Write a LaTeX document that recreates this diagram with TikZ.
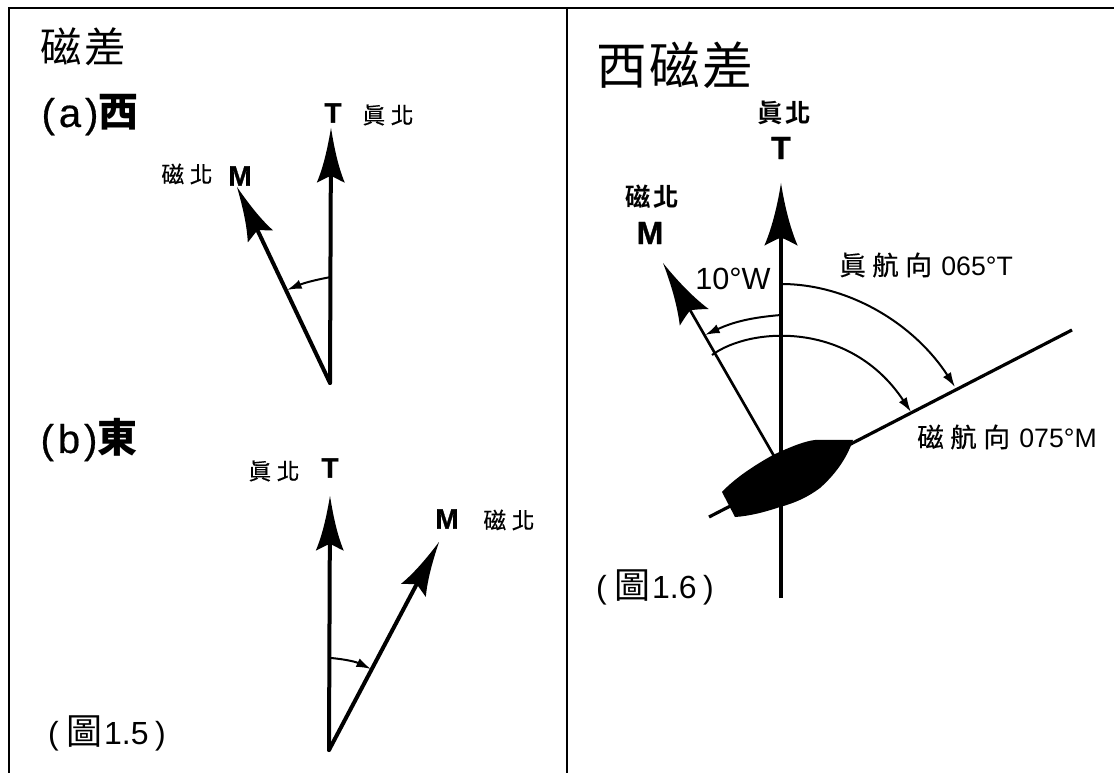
\documentclass[tikz,border=0pt]{standalone}
\usepackage{fontspec}
\setmainfont{Liberation Sans}
\newfontfamily\cjk{Noto Sans CJK TC}
\newfontfamily\cjksp[LetterSpace=25,FakeBold=0.6]{Noto Sans CJK TC}
\newfontfamily\cjkspb[LetterSpace=12]{Noto Sans CJK TC Bold}
\newfontfamily\cjkmid[LetterSpace=24,FakeBold=0.3]{Noto Sans CJK TC}
\newfontfamily\latb[LetterSpace=10,FakeBold=0.5]{Liberation Sans}
\newfontfamily\heavy[FakeBold=1.0]{Liberation Sans Bold}
\newfontfamily\cjkttl[LetterSpace=6]{Noto Sans CJK TC}
\newfontfamily\cjkttlb[LetterSpace=4]{Noto Sans CJK TC}
\usetikzlibrary{arrows.meta,calc}
\pgfarrowsdeclare{navA}{navA}{\pgfarrowsleftextend{-8pt}\pgfarrowsrightextend{36pt}}{%
  \pgfpathmoveto{\pgfpoint{36pt}{0pt}}%
  \pgfpathcurveto{\pgfpoint{24pt}{2pt}}{\pgfpoint{8pt}{5pt}}{\pgfpoint{-5pt}{10.5pt}}%
  \pgfpathcurveto{\pgfpoint{-3pt}{6pt}}{\pgfpoint{-1pt}{3pt}}{\pgfpoint{0pt}{0pt}}%
  \pgfpathcurveto{\pgfpoint{-1pt}{-3pt}}{\pgfpoint{-3pt}{-6pt}}{\pgfpoint{-5pt}{-10.5pt}}%
  \pgfpathcurveto{\pgfpoint{8pt}{-5pt}}{\pgfpoint{24pt}{-2pt}}{\pgfpoint{36pt}{0pt}}%
  \pgfusepathqfill}
\pgfarrowsdeclare{navB}{navB}{\pgfarrowsleftextend{-8pt}\pgfarrowsrightextend{41pt}}{%
  \pgfpathmoveto{\pgfpoint{41pt}{0pt}}%
  \pgfpathcurveto{\pgfpoint{28pt}{2pt}}{\pgfpoint{9pt}{6pt}}{\pgfpoint{-6pt}{12.5pt}}%
  \pgfpathcurveto{\pgfpoint{-3pt}{7pt}}{\pgfpoint{-1pt}{3pt}}{\pgfpoint{0pt}{0pt}}%
  \pgfpathcurveto{\pgfpoint{-1pt}{-3pt}}{\pgfpoint{-3pt}{-7pt}}{\pgfpoint{-6pt}{-12.5pt}}%
  \pgfpathcurveto{\pgfpoint{9pt}{-6pt}}{\pgfpoint{28pt}{-2pt}}{\pgfpoint{41pt}{0pt}}%
  \pgfusepathqfill}
\newcommand{\figcap}[1]{({\hspace{6pt}\cjk\fontsize{27}{27}\selectfont 圖}\hspace{1pt}#1\hspace{5pt})}
\tikzset{
  txt/.style={inner sep=0pt,outer sep=0pt,anchor=center,text=black},
  cjksmall/.style={txt,font=\cjksp\fontsize{17}{17}\selectfont},
  cjkstrong/.style={txt,font=\cjkspb\fontsize{19}{19}\selectfont},
  letterb/.style={txt,font=\heavy\fontsize{21}{21}\selectfont},
  letterc/.style={txt,font=\heavy\fontsize{24}{24}\selectfont},
  heading/.style={txt,font=\latb\fontsize{30}{30}\selectfont},
  lab/.style={txt,font=\fontsize{24}{24}\selectfont},
  courselab/.style={txt,font=\fontsize{20}{20}\selectfont},
  framel/.style={line width=1.8pt,line cap=butt},
  thick1/.style={line width=3pt,line cap=round},
  thin1/.style={line width=2.3pt},
  arcl/.style={line width=1.5pt,-{Latex[length=11pt,width=7pt]}},
}
\begin{document}
\begin{tikzpicture}[x=0.75pt,y=-0.75pt]
\useasboundingbox (0,0) rectangle (1114,773);
% frame
\coordinate (f1) at (9,773); \coordinate (f2) at (9,8); \coordinate (f3) at (1114,8);
\coordinate (f4) at (567,8); \coordinate (f5) at (567,773);
\draw[framel] (f1) -- (f2) -- (f3);
\draw[line width=1.5pt] (f4) -- (f5);
% titles
\node[txt,font=\cjkttl\fontsize{31}{31}\selectfont] (t1) at (83,47) {磁差};
\node[heading] (ha) at (90,115) {(a){\cjk\bfseries\fontsize{30}{30}\selectfont 西}};
\node[heading] (hb) at (89,440) {(b){\cjk\bfseries\fontsize{30}{30}\selectfont 東}};
\node[lab] (cap5) at (107,733) {\figcap{1.5}};
\node[txt,font=\cjkttlb\fontsize{38}{38}\selectfont] (t2) at (675,65) {西磁差};
\node[lab] (cap6) at (655,587) {\figcap{1.6}};
% panel a
\coordinate (aO) at (330,383);
\coordinate (aT) at (331,128);
\coordinate (aM) at (237,187);
\draw[thick1,-navA] (aO) -- (aT);
\draw[thick1,-navA] (aO) -- (aM);
\coordinate (aA1) at (331,277); \coordinate (aA2) at (287,290);
\draw[arcl] (aA1) to[bend right=6] (aA2);
\node[letterb] (aTl) at (333,113) {T};
\node[cjksmall] (aTc) at (388,115) {眞北};
\node[letterb] (aMl) at (240,176) {M};
\node[cjksmall] (aMc) at (187,174) {磁北};
% panel b
\coordinate (bO) at (329,750);
\coordinate (bT) at (330,496);
\coordinate (bM) at (439,542);
\draw[thick1,-navA] (bO) -- (bT);
\draw[thick1,-navA] (bO) -- (bM);
\coordinate (bA1) at (331,658); \coordinate (bA2) at (371,669);
\draw[arcl] (bA1) to[bend left=10] (bA2);
\node[letterb] (bTl) at (330,468) {T};
\node[cjksmall] (bTc) at (274,471) {眞北};
\node[letterb] (bMl) at (447,519) {M};
\node[cjksmall] (bMc) at (509,520) {磁北};
% panel c
\coordinate (cB) at (781,598);
\coordinate (cT) at (781,183);
\coordinate (cO) at (774,456);
\coordinate (cM) at (663,263);
\coordinate (cS) at (709,517);
\coordinate (cH) at (1072,330);
\draw[thin1,-navB] (cB) -- (cT);
\draw[line width=2pt,-navB] (cO) -- (cM);
\draw[line width=2.4pt] (cS) -- (cH);
\fill (722,492) .. controls (735,478) and (755,465) .. (773,455)
  .. controls (790,447) and (805,441) .. (815,440) -- (853,440)
  .. controls (848,455) and (838,472) .. (820,488)
  .. controls (808,497) and (795,503) .. (780,507)
  .. controls (765,512) and (750,516) .. (735,517) -- cycle;
\coordinate (cA1) at (781,315); \coordinate (cA2) at (705,335);
\draw[arcl] (cA1) to[bend right=10] (cA2);
\coordinate (cB1) at (712,355); \coordinate (cB2) at (911,412);
\draw[arcl] (cB1) .. controls (750,327) and (850,320) .. (cB2);
\coordinate (cC1) at (781,284); \coordinate (cC2) at (955,387);
\draw[arcl] (cC1) .. controls (850,284) and (915,325) .. (cC2);
\node[txt,font=\fontsize{23}{23}\selectfont] (c10) at (733,279) {10°W};
\node[courselab] (cTh) at (926,265) {{\cjkmid\fontsize{20}{20}\selectfont 眞航向}\hspace{7pt}065°T};
\node[courselab] (cMh) at (1007,437) {{\cjkmid\fontsize{20}{20}\selectfont 磁航向}\hspace{7pt}075°M};
\node[letterc] (cTl) at (781,148) {T};
\node[cjkstrong] (cTc) at (784,113) {眞北};
\node[letterc] (cMl) at (650,233) {M};
\node[cjkstrong] (cMc) at (652,197) {磁北};
\end{tikzpicture}
\end{document}
